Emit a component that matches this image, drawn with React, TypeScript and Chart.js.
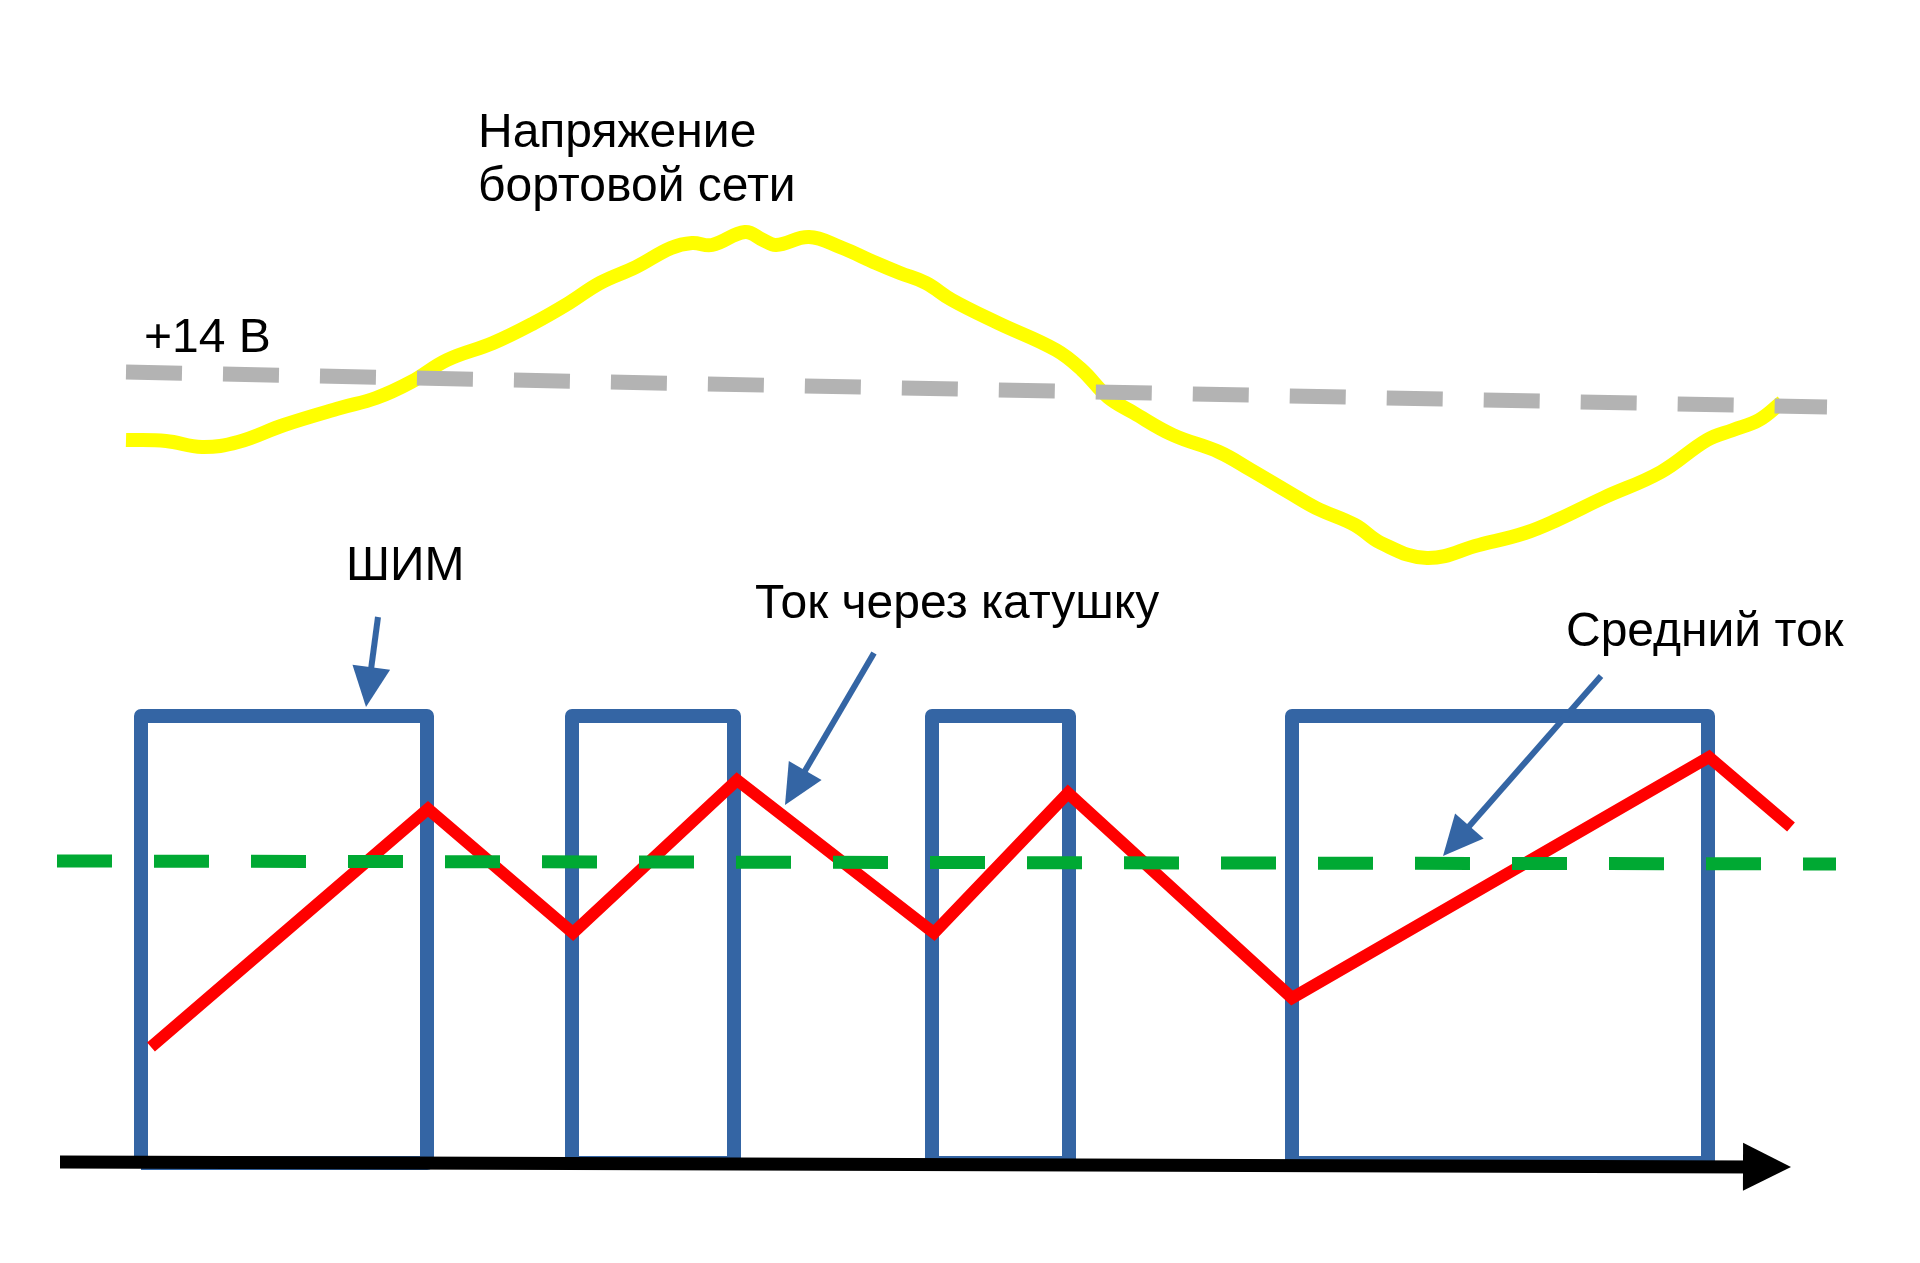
import React, { useEffect, useRef } from "react";
import { Chart, registerables } from "chart.js";

Chart.register(...registerables);

// Time axis (arbitrary units) and level axis (arbitrary units)
const X_RANGE = [0, 192];
const Y_RANGE = [0, 126.3];

// Board-network voltage (wavy yellow curve)
const voltageT = [12.6, 16.6, 20.2, 23.8, 28.4, 34.0, 37.6, 41.1, 44.7, 49.3, 53.4, 56.9, 60.0, 63.6, 67.1, 69.2, 71.2, 74.5, 76.3, 77.6, 80.9, 84.0, 87.6, 90.0, 92.6, 95.2, 99.8, 105.6, 108.2, 110.8, 113.4, 117.3, 121.9, 125.1, 129.0, 131.6, 135.5, 138.1, 142.7, 147.9, 152.5, 155.7, 160.3, 166.1, 170.7, 173.3, 175.9, 178.2];
const voltageV = [82.3, 82.2, 81.6, 82.1, 83.8, 85.5, 86.5, 88.1, 90.3, 92.0, 94.0, 96.0, 98.0, 99.6, 101.5, 102.0, 101.8, 103.1, 102.3, 101.8, 102.6, 101.6, 100.0, 99.0, 98.0, 96.3, 94.0, 91.3, 89.3, 86.6, 85.0, 82.8, 81.1, 79.3, 77.0, 75.5, 73.8, 72.0, 70.5, 71.8, 73.0, 74.3, 76.5, 79.1, 82.3, 83.3, 84.3, 86.1];

// +14 V reference
const refT = [12.6, 182.7];
const refV = [89.1, 85.6];

// PWM pulses (rising, falling edges)
const pwmEdges = [14.1, 42.7, 57.2, 73.4, 93.2, 106.9, 129.2, 170.8];
const pwmLow = 10.0;
const pwmHigh = 54.7;

// Coil current
const currentT = [15.1, 42.8, 57.3, 73.7, 93.4, 106.8, 129.2, 170.9, 179.1];
const currentV = [21.6, 45.4, 33.0, 48.3, 33.0, 47.0, 26.5, 50.6, 43.6];

// Average current
const avgT = [5.7, 183.6];
const avgV = [40.2, 39.9];

// Time axis arrow
const axisT = [6.0, 179.1];
const axisV = [10.1, 9.6];

// Pointer arrows [startT, startV, tipT, tipV]
const arrowPwm = [37.8, 64.6, 36.6, 55.6];
const arrowCoil = [87.4, 61.0, 78.5, 45.8];
const arrowAvg = [160.1, 58.7, 144.3, 40.7];

// Labels
const labelTexts = ["Напряжение", "бортовой сети", "+14 В", "ШИМ", "Ток через катушку", "Средний ток"];
const labelT = [47.8, 47.8, 14.4, 34.6, 75.5, 156.6];
const labelV = [111.6, 106.2, 91.1, 68.3, 64.5, 61.7];

const BLUE = "#3465a4";

function pts(ts: number[], vs: number[]) {
  return ts.map((t, i) => ({ x: t, y: vs[i] }));
}

function pwmPoints() {
  const out: { x: number; y: number | null }[] = [];
  for (let i = 0; i < pwmEdges.length; i += 2) {
    out.push({ x: pwmEdges[i], y: pwmLow });
    out.push({ x: pwmEdges[i], y: pwmHigh });
    out.push({ x: pwmEdges[i + 1], y: pwmHigh });
    out.push({ x: pwmEdges[i + 1], y: pwmLow });
    out.push({ x: pwmEdges[i], y: pwmLow });
    out.push({ x: pwmEdges[i + 1], y: null });
  }
  return out;
}

function drawArrow(
  ctx: CanvasRenderingContext2D,
  x0: number, y0: number, x1: number, y1: number,
  width: number, headLen: number, headW: number, color: string
) {
  const dx = x1 - x0, dy = y1 - y0;
  const len = Math.hypot(dx, dy);
  const ux = dx / len, uy = dy / len;
  const px = -uy, py = ux;
  const bx = x1 - ux * headLen, by = y1 - uy * headLen;
  ctx.save();
  ctx.strokeStyle = color;
  ctx.fillStyle = color;
  ctx.lineWidth = width;
  ctx.lineCap = "butt";
  ctx.beginPath();
  ctx.moveTo(x0, y0);
  ctx.lineTo(bx + ux * headLen * 0.3, by + uy * headLen * 0.3);
  ctx.stroke();
  ctx.beginPath();
  ctx.moveTo(x1, y1);
  ctx.lineTo(bx + px * headW / 2, by + py * headW / 2);
  ctx.lineTo(bx - px * headW / 2, by - py * headW / 2);
  ctx.closePath();
  ctx.fill();
  ctx.restore();
}

const overlayPlugin = {
  id: "overlay",
  afterDatasetsDraw(chart: any) {
    const { ctx, scales } = chart;
    const sx = (v: number) => scales.x.getPixelForValue(v);
    const sy = (v: number) => scales.y.getPixelForValue(v);

    drawArrow(ctx, sx(axisT[0]), sy(axisV[0]), sx(axisT[1]), sy(axisV[1]), 13, 48, 48, "#000000");
    for (const a of [arrowPwm, arrowCoil, arrowAvg]) {
      drawArrow(ctx, sx(a[0]), sy(a[1]), sx(a[2]), sy(a[3]), 6, 40, 38, BLUE);
    }

    ctx.save();
    ctx.fillStyle = "#000000";
    ctx.font = '48px "Liberation Sans", Arial, sans-serif';
    ctx.textAlign = "left";
    ctx.textBaseline = "alphabetic";
    labelTexts.forEach((txt, i) => {
      ctx.fillText(txt, sx(labelT[i]), sy(labelV[i]));
    });
    ctx.restore();
  },
};

export default function App() {
  const ref = useRef<HTMLCanvasElement | null>(null);

  useEffect(() => {
    if (!ref.current) return;
    const chart = new Chart(ref.current, {
      type: "line",
      data: {
        datasets: [
          {
            label: "Напряжение бортовой сети",
            data: pts(voltageT, voltageV),
            borderColor: "#ffff00",
            borderWidth: 14,
            tension: 0.4,
            pointRadius: 0,
            borderCapStyle: "butt",
            order: 5,
          },
          {
            label: "+14 В",
            data: pts(refT, refV),
            borderColor: "#b3b3b3",
            borderWidth: 15,
            borderDash: [56, 41],
            pointRadius: 0,
            order: 4,
          },
          {
            label: "ШИМ",
            data: pwmPoints(),
            borderColor: BLUE,
            borderWidth: 14,
            borderJoinStyle: "round",
            pointRadius: 0,
            tension: 0,
            spanGaps: false,
            order: 3,
          },
          {
            label: "Ток через катушку",
            data: pts(currentT, currentV),
            borderColor: "#ff0000",
            borderWidth: 12,
            borderJoinStyle: "miter",
            borderCapStyle: "butt",
            pointRadius: 0,
            tension: 0,
            order: 2,
          },
          {
            label: "Средний ток",
            data: pts(avgT, avgV),
            borderColor: "#00a933",
            borderWidth: 13,
            borderDash: [55, 42],
            pointRadius: 0,
            order: 1,
          },
        ],
      },
      options: {
        responsive: false,
        animation: false,
        parsing: false as any,
        layout: { padding: 0 },
        plugins: {
          legend: { display: false },
          tooltip: { enabled: false },
          title: { display: false },
        },
        scales: {
          x: { type: "linear", min: X_RANGE[0], max: X_RANGE[1], display: false },
          y: { type: "linear", min: Y_RANGE[0], max: Y_RANGE[1], display: false },
        },
      },
      plugins: [overlayPlugin],
    });
    return () => chart.destroy();
  }, []);

  return (
    <div style={{ position: "absolute", left: 0, top: 0, width: 1920, height: 1263, background: "#ffffff" }}>
      <canvas ref={ref} width={1920} height={1263} style={{ display: "block", width: 1920, height: 1263 }} />
    </div>
  );
}
